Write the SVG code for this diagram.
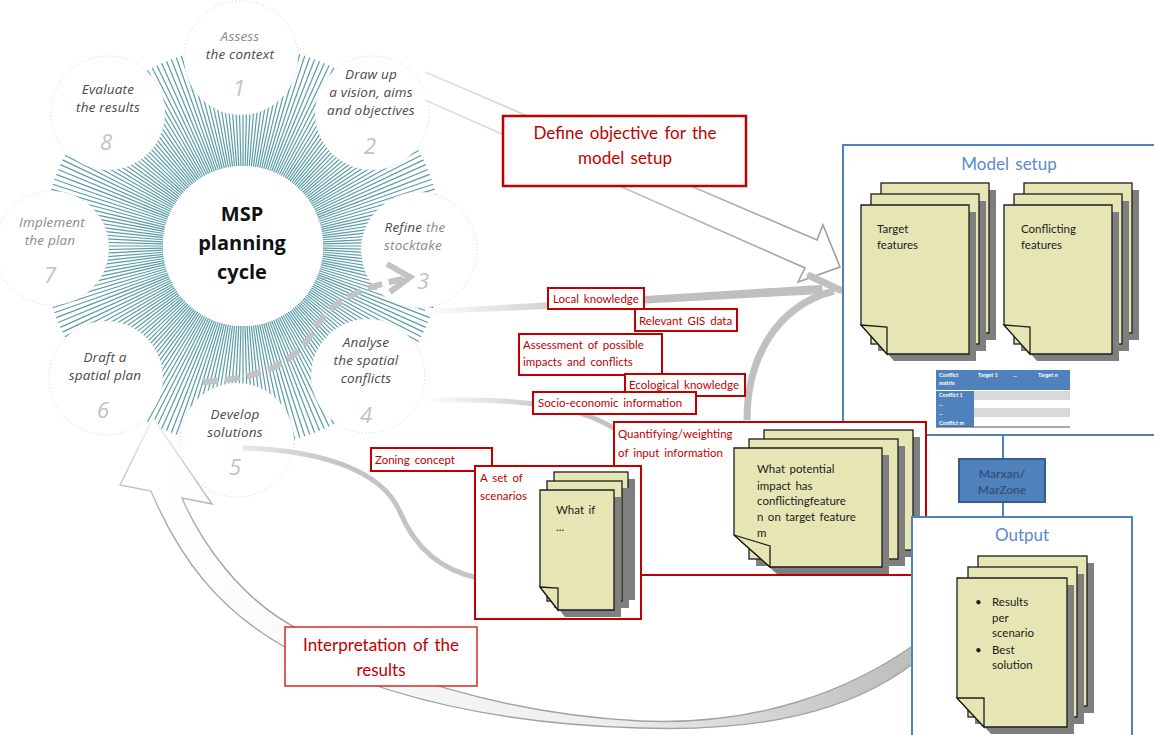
<svg xmlns="http://www.w3.org/2000/svg" xmlns:xlink="http://www.w3.org/1999/xlink" width="1154" height="735" viewBox="0 0 1154 735">
  <style>
    .ray { stroke: #5a9ca6; stroke-width: 1.2; }
    .step { fill: #ffffff; stroke: #cfcfcf; stroke-width: 1; stroke-dasharray: 1 2.5; }
    .st { font-family: "Open Sans", "DejaVu Sans", sans-serif; font-style: italic; font-size: 13.5px; letter-spacing: 0.2px; fill: #4a4a4a; text-anchor: middle; }
    .st.faded { fill: #8a8a8a; }
    .num { font-family: "Open Sans", "DejaVu Sans", sans-serif; font-style: italic; font-size: 22px; fill: #c9c0b9; text-anchor: middle; }
    .title { font-family: "Open Sans", "DejaVu Sans", sans-serif; font-weight: bold; font-size: 20px; fill: #111; text-anchor: middle; }
    .rbox { fill: #ffffff; stroke: #c00000; stroke-width: 2; }
    .rt { font-family: Lato, "Liberation Sans", sans-serif; font-size: 11.5px; word-spacing: 2px; fill: #c00000; }
    .rt-big { font-family: Lato, "Liberation Sans", sans-serif; font-size: 17px; word-spacing: 2px; fill: #c00000; text-anchor: middle; }
    .bbox { fill: #ffffff; stroke: #4f81bd; stroke-width: 2; }
    .bt { font-family: Lato, "Liberation Sans", sans-serif; font-size: 17px; word-spacing: 2px; fill: #5b8bc9; text-anchor: middle; }
    .pg { fill: #e6e6b5; stroke: #1e1e1e; stroke-width: 1.3; }
    .sh { fill: #7f7f7f; }
    .dt { font-family: Lato, "Liberation Sans", sans-serif; font-size: 11.5px; word-spacing: 1.5px; fill: #1c1c1c; }
    .tb { font-family: Lato, "Liberation Sans", sans-serif; font-size: 5.5px; font-weight: bold; fill: #ffffff; }
  </style>
  <defs>
    <g id="ray10">
      <line class="ray" x1="80" y1="0" x2="200" y2="0"/>
      <line class="ray" x1="80" y1="0" x2="200" y2="0" transform="rotate(1.5)"/>
      <line class="ray" x1="80" y1="0" x2="200" y2="0" transform="rotate(3)"/>
      <line class="ray" x1="80" y1="0" x2="200" y2="0" transform="rotate(4.5)"/>
      <line class="ray" x1="80" y1="0" x2="200" y2="0" transform="rotate(6)"/>
      <line class="ray" x1="80" y1="0" x2="200" y2="0" transform="rotate(7.5)"/>
      <line class="ray" x1="80" y1="0" x2="200" y2="0" transform="rotate(9)"/>
      <line class="ray" x1="80" y1="0" x2="200" y2="0" transform="rotate(10.5)"/>
      <line class="ray" x1="80" y1="0" x2="200" y2="0" transform="rotate(12)"/>
      <line class="ray" x1="80" y1="0" x2="200" y2="0" transform="rotate(13.5)"/>
    </g>
    <linearGradient id="gTop" gradientUnits="userSpaceOnUse" x1="425" y1="0" x2="840" y2="0">
      <stop offset="0" stop-color="#e2e2e2"/>
      <stop offset="1" stop-color="#9c9c9c"/>
    </linearGradient>
    <linearGradient id="gMid" gradientUnits="userSpaceOnUse" x1="425" y1="0" x2="600" y2="0">
      <stop offset="0" stop-color="#ffffff"/>
      <stop offset="1" stop-color="#bfbfbf"/>
    </linearGradient>
    <linearGradient id="gSocio" gradientUnits="userSpaceOnUse" x1="425" y1="0" x2="560" y2="0">
      <stop offset="0" stop-color="#ffffff"/>
      <stop offset="1" stop-color="#c2c2c2"/>
    </linearGradient>
    <linearGradient id="gDev" gradientUnits="userSpaceOnUse" x1="243" y1="0" x2="340" y2="0">
      <stop offset="0" stop-color="#e8e8e8"/>
      <stop offset="1" stop-color="#c4c4c4"/>
    </linearGradient>
    <linearGradient id="gBotFill" gradientUnits="userSpaceOnUse" x1="150" y1="0" x2="912" y2="0">
      <stop offset="0" stop-color="#ffffff"/>
      <stop offset="0.6" stop-color="#eeeeee"/>
      <stop offset="1" stop-color="#bdbdbd"/>
    </linearGradient>
    <linearGradient id="gBotStroke" gradientUnits="userSpaceOnUse" x1="0" y1="418" x2="0" y2="530">
      <stop offset="0" stop-color="#f2f2f2"/>
      <stop offset="1" stop-color="#a2a2a2"/>
    </linearGradient>
  </defs>

  <!-- planning cycle: sunburst, step circles, labels -->
  <g id="cycle">
    <g transform="translate(243,246)">
      <use xlink:href="#ray10" transform="rotate(0)"/>
      <use xlink:href="#ray10" transform="rotate(15)"/>
      <use xlink:href="#ray10" transform="rotate(30)"/>
      <use xlink:href="#ray10" transform="rotate(45)"/>
      <use xlink:href="#ray10" transform="rotate(60)"/>
      <use xlink:href="#ray10" transform="rotate(75)"/>
      <use xlink:href="#ray10" transform="rotate(90)"/>
      <use xlink:href="#ray10" transform="rotate(105)"/>
      <use xlink:href="#ray10" transform="rotate(120)"/>
      <use xlink:href="#ray10" transform="rotate(135)"/>
      <use xlink:href="#ray10" transform="rotate(150)"/>
      <use xlink:href="#ray10" transform="rotate(165)"/>
      <use xlink:href="#ray10" transform="rotate(180)"/>
      <use xlink:href="#ray10" transform="rotate(195)"/>
      <use xlink:href="#ray10" transform="rotate(210)"/>
      <use xlink:href="#ray10" transform="rotate(225)"/>
      <use xlink:href="#ray10" transform="rotate(240)"/>
      <use xlink:href="#ray10" transform="rotate(255)"/>
      <use xlink:href="#ray10" transform="rotate(270)"/>
      <use xlink:href="#ray10" transform="rotate(285)"/>
      <use xlink:href="#ray10" transform="rotate(300)"/>
      <use xlink:href="#ray10" transform="rotate(315)"/>
      <use xlink:href="#ray10" transform="rotate(330)"/>
      <use xlink:href="#ray10" transform="rotate(345)"/>
      <circle cx="0" cy="0" r="80" fill="#ffffff"/>
    </g>
    <g id="centre">
      <text class="title" x="242" y="221">MSP</text>
      <text class="title" x="242" y="250">planning</text>
      <text class="title" x="242" y="279">cycle</text>
    </g>
    <g id="step1">
      <circle class="step" cx="241" cy="58" r="57"/>
      <text class="st faded" x="240" y="41">Assess</text>
      <text class="st" x="240" y="59">the context</text>
      <text class="num" x="239" y="96">1</text>
    </g>
    <g id="step2">
      <circle class="step" cx="372" cy="113" r="57"/>
      <text class="st" x="371" y="79">Draw up</text>
      <text class="st" x="371" y="97">a vision, aims</text>
      <text class="st" x="371" y="115">and objectives</text>
      <text class="num" x="370" y="154">2</text>
    </g>
    <g id="step3">
      <circle class="step" cx="419" cy="250" r="58"/>
      <text class="st" x="415" y="232">Refine <tspan fill="#8a8a8a">the</tspan></text>
      <text class="st faded" x="413" y="250">stocktake</text>
      <text class="num" x="423" y="289">3</text>
    </g>
    <g id="step4">
      <circle class="step" cx="368" cy="376" r="57"/>
      <text class="st" x="366" y="347">Analyse</text>
      <text class="st" x="366" y="365">the spatial</text>
      <text class="st" x="366" y="383">conflicts</text>
      <text class="num" x="366" y="423">4</text>
    </g>
    <g id="step5">
      <circle class="step" cx="237" cy="440" r="57"/>
      <text class="st" x="235" y="419">Develop</text>
      <text class="st" x="235" y="437">solutions</text>
      <text class="num" x="235" y="475" fill="#e2dcd8">5</text>
    </g>
    <g id="step6">
      <circle class="step" cx="106" cy="378" r="57"/>
      <text class="st" x="105" y="362">Draft a</text>
      <text class="st" x="105" y="380">spatial plan</text>
      <text class="num" x="103" y="418">6</text>
    </g>
    <g id="step7">
      <circle class="step" cx="52" cy="248" r="57"/>
      <text class="st faded" x="52" y="227">Implement</text>
      <text class="st faded" x="50" y="245">the plan</text>
      <text class="num" x="50" y="283">7</text>
    </g>
    <g id="step8">
      <circle class="step" cx="108" cy="113" r="57"/>
      <text class="st" x="108" y="94">Evaluate</text>
      <text class="st" x="108" y="112">the results</text>
      <text class="num" x="106" y="150">8</text>
    </g>
  </g>

  <!-- connectors -->
  <g id="connectors" fill="none" stroke-linecap="butt">
    <!-- dashed loop inside the cycle -->
    <path d="M203,382 C270,378 295,360 312,333 C328,305 350,290 403,279" stroke="#c3c3c3" stroke-width="6" stroke-dasharray="15 7"/>
    <polyline points="387,264 410,277 390,292" stroke="#c3c3c3" stroke-width="6" stroke-linejoin="miter"/>
    <!-- hollow arrow: objectives to model setup -->
    <path d="M425,72 L817,240 L823,225 L840,267 L798,282 L805,268 L425,100" fill="#ffffff" stroke="url(#gTop)" stroke-width="1.6" stroke-linejoin="miter"/>
    <!-- stocktake inputs to model setup -->
    <path d="M425,309 C550,303 700,292 822,285 L823,294 C700,300 550,310 425,314 Z" fill="url(#gMid)" stroke="none"/>
    <path d="M747,420 C747,360 775,306 834,291" stroke="#c0c0c0" stroke-width="7"/>
    <path d="M810,276 L840,290" stroke="#c0c0c0" stroke-width="7" stroke-linecap="round"/>
    <!-- spatial conflicts to weighting -->
    <path d="M425,400 C520,398 585,405 622,434" stroke="url(#gSocio)" stroke-width="5"/>
    <!-- solutions to scenarios -->
    <path d="M243,448 C320,450 382,470 400,512 C415,548 440,570 478,578" stroke="url(#gDev)" stroke-width="5"/>
    <!-- hollow return arrow: results back to the plan -->
    <path d="M153,418 L212,504 L182,498 C200,540 240,600 300,630 C380,672 500,714 640,721 C760,726 850,690 914,645 L914,663 C850,712 760,732 640,728 C500,724 380,698 283,646 C220,610 180,560 151,491 L120,485 Z" fill="url(#gBotFill)" stroke="url(#gBotStroke)" stroke-width="1.4" stroke-linejoin="miter"/>
  </g>

  <!-- input labels -->
  <g id="local-knowledge">
    <rect class="rbox" x="548" y="288" width="96" height="21"/>
    <text class="rt" x="553" y="303">Local knowledge</text>
  </g>
  <g id="gis-data">
    <rect class="rbox" x="635" y="309" width="102" height="22"/>
    <text class="rt" x="639" y="325">Relevant GIS data</text>
  </g>
  <g id="assessment">
    <rect class="rbox" x="519" y="334" width="143" height="41"/>
    <text class="rt" x="523" y="349">Assessment of possible</text>
    <text class="rt" x="523" y="366">impacts and conflicts</text>
  </g>
  <g id="ecological">
    <rect class="rbox" x="625" y="374" width="120" height="22"/>
    <text class="rt" x="629" y="389">Ecological knowledge</text>
  </g>
  <g id="socio-economic">
    <rect class="rbox" x="533" y="392" width="163" height="22"/>
    <text class="rt" x="538" y="407">Socio-economic  information</text>
  </g>

  <!-- model setup -->
  <g id="model-setup">
    <rect class="bbox" x="843" y="145" width="330" height="290"/>
    <text class="bt" x="1009" y="170">Model setup</text>
    <g id="target-features">
      <rect class="sh" x="888" y="190" width="108" height="150"/>
      <rect class="pg" x="881" y="183" width="108" height="150"/>
      <rect class="sh" x="878" y="201" width="108" height="150"/>
      <rect class="pg" x="871" y="194" width="108" height="150"/>
      <path class="sh" d="M868,212 H976 V361 H894 L868,332 Z"/>
      <path class="pg" d="M861,205 H969 V354 H887 L861,325 Z"/>
      <path class="pg" d="M861,325 L887,327 L887,354 Z"/>
      <text class="dt" x="877" y="233">Target</text>
      <text class="dt" x="877" y="249">features</text>
    </g>
    <g id="conflicting-features">
      <rect class="sh" x="1031" y="190" width="108" height="150"/>
      <rect class="pg" x="1024" y="183" width="108" height="150"/>
      <rect class="sh" x="1021" y="201" width="108" height="150"/>
      <rect class="pg" x="1014" y="194" width="108" height="150"/>
      <path class="sh" d="M1011,212 H1119 V361 H1037 L1011,332 Z"/>
      <path class="pg" d="M1004,205 H1112 V354 H1030 L1004,325 Z"/>
      <path class="pg" d="M1004,325 L1030,327 L1030,354 Z"/>
      <text class="dt" x="1021" y="233">Conflicting</text>
      <text class="dt" x="1021" y="249">features</text>
    </g>
    <g id="conflict-matrix">
      <rect x="936" y="370" width="134" height="20" fill="#4f81bd"/>
      <rect x="936" y="390" width="38" height="37" fill="#4f81bd"/>
      <rect x="974" y="391" width="96" height="9" fill="#d9d9d9"/>
      <rect x="974" y="408" width="96" height="9" fill="#d9d9d9"/>
      <line x1="936" y1="390.5" x2="1070" y2="390.5" stroke="#ffffff" stroke-width="1"/>
      <line x1="936" y1="427" x2="1070" y2="427" stroke="#555555" stroke-width="1"/>
      <text class="tb" x="939" y="377">Conflict</text>
      <text class="tb" x="939" y="385">matrix</text>
      <text class="tb" x="978" y="377">Target 1</text>
      <text class="tb" x="1013" y="377">...</text>
      <text class="tb" x="1038" y="377">Target n</text>
      <text class="tb" x="939" y="397">Conflict 1</text>
      <text class="tb" x="939" y="406">...</text>
      <text class="tb" x="939" y="415">...</text>
      <text class="tb" x="939" y="425">Conflict m</text>
    </g>
  </g>

  <!-- zoning concept -->
  <g id="zoning-concept">
    <rect class="rbox" x="371" y="448" width="121" height="23"/>
    <text class="rt" x="375" y="464">Zoning concept</text>
  </g>

  <!-- weighting of input information -->
  <g id="weighting">
    <rect class="rbox" x="614" y="422" width="312" height="153"/>
    <text class="rt" x="618" y="438">Quantifying/weighting</text>
    <text class="rt" x="618" y="457">of input information</text>
    <g id="impact-sheets">
      <rect class="sh" x="771" y="437" width="149" height="120"/>
      <rect class="pg" x="764" y="430" width="149" height="120"/>
      <rect class="sh" x="756" y="446" width="149" height="120"/>
      <rect class="pg" x="749" y="439" width="149" height="120"/>
      <path class="sh" d="M741,455 H889 V574 H777 L741,542 Z"/>
      <path class="pg" d="M734,448 H882 V567 H770 L734,535 Z"/>
      <path class="pg" d="M734,535 L770,546 L770,567 Z"/>
      <text class="dt" x="757" y="473">What potential</text>
      <text class="dt" x="757" y="490">impact has</text>
      <text class="dt" x="757" y="505">conflictingfeature</text>
      <text class="dt" x="757" y="521">n on target feature</text>
      <text class="dt" x="757" y="537">m</text>
    </g>
  </g>

  <!-- scenarios -->
  <g id="scenarios">
    <rect class="rbox" x="475" y="466" width="166" height="153"/>
    <text class="rt" x="480" y="482">A set of</text>
    <text class="rt" x="480" y="500">scenarios</text>
    <g id="scenario-sheets">
      <rect class="sh" x="561" y="479" width="74" height="121"/>
      <rect class="pg" x="554" y="472" width="74" height="121"/>
      <rect class="sh" x="554" y="488" width="75" height="120"/>
      <rect class="pg" x="547" y="481" width="75" height="120"/>
      <path class="sh" d="M547,497 H621 V617 H565 L547,594 Z"/>
      <path class="pg" d="M540,490 H614 V610 H558 L540,587 Z"/>
      <path class="pg" d="M540,587 L558,588 L558,610 Z"/>
      <text class="dt" x="556" y="514">What if</text>
      <text class="dt" x="556" y="531">...</text>
    </g>
  </g>

  <!-- optimisation tool -->
  <g id="marxan">
    <line x1="1003" y1="435" x2="1003" y2="459" stroke="#4f81bd" stroke-width="2"/>
    <line x1="1003" y1="502" x2="1003" y2="517" stroke="#4f81bd" stroke-width="2"/>
    <rect x="959" y="459" width="86" height="43" fill="#4f81bd" stroke="#385d8a" stroke-width="2"/>
    <text x="1002" y="478" font-family="Lato, 'Liberation Sans', sans-serif" font-size="12" font-weight="bold" fill="#34557f" text-anchor="middle">Marxan/</text>
    <text x="1002" y="494" font-family="Lato, 'Liberation Sans', sans-serif" font-size="12" font-weight="bold" fill="#34557f" text-anchor="middle">MarZone</text>
  </g>

  <!-- output -->
  <g id="output">
    <rect class="bbox" x="912" y="517" width="220" height="240"/>
    <text class="bt" x="1022" y="541">Output</text>
    <g id="output-sheets">
      <rect class="sh" x="985" y="563" width="109" height="150"/>
      <rect class="pg" x="978" y="556" width="109" height="150"/>
      <rect class="sh" x="975" y="574" width="109" height="150"/>
      <rect class="pg" x="968" y="567" width="109" height="150"/>
      <path class="sh" d="M964,585 H1074 V734 H991 L964,705 Z"/>
      <path class="pg" d="M957,578 H1067 V727 H984 L957,698 Z"/>
      <path class="pg" d="M957,698 L984,698 L984,727 Z"/>
      <text class="dt" x="975" y="606">•</text>
      <text class="dt" x="992" y="606">Results</text>
      <text class="dt" x="992" y="622">per</text>
      <text class="dt" x="992" y="637">scenario</text>
      <text class="dt" x="975" y="654">•</text>
      <text class="dt" x="992" y="654">Best</text>
      <text class="dt" x="992" y="669">solution</text>
    </g>
  </g>

  <!-- process labels -->
  <g id="define-objective">
    <rect x="503" y="116" width="243" height="70" fill="#ffffff" stroke="#c00000" stroke-width="2.5"/>
    <text class="rt-big" x="625" y="139">Define objective for the</text>
    <text class="rt-big" x="625" y="164">model setup</text>
  </g>
  <g id="interpretation">
    <rect x="285" y="627" width="192" height="59" fill="#ffffff" stroke="#d42a2a" stroke-width="1.5"/>
    <text class="rt-big" x="381" y="651">Interpretation of the</text>
    <text class="rt-big" x="381" y="676">results</text>
  </g>
</svg>
